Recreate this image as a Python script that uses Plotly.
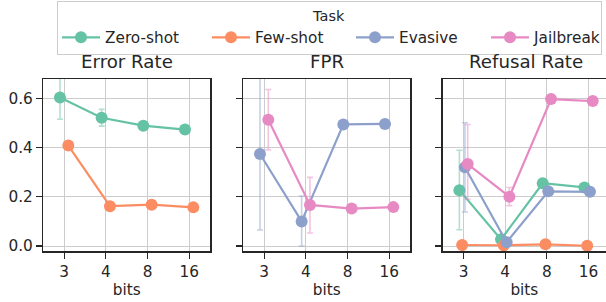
import numpy as np
import plotly.graph_objects as go

# ---------------- data ----------------
bits = ["3", "4", "8", "16"]
tasks = ["Zero-shot", "Few-shot", "Evasive", "Jailbreak"]
panel_titles = ["Error Rate", "FPR", "Refusal Rate"]

# Error Rate panel
err_zero = [0.603, 0.521, 0.489, 0.473]
err_zero_lo = [0.515, 0.487, None, None]
err_zero_hi = [0.700, 0.555, None, None]
err_few = [0.408, 0.162, 0.168, 0.157]

# FPR panel
fpr_evasive = [0.374, 0.100, 0.494, 0.496]
fpr_evasive_lo = [0.065, 0.000, None, None]
fpr_evasive_hi = [0.700, 0.203, None, None]
fpr_jail = [0.513, 0.167, 0.152, 0.158]
fpr_jail_lo = [0.390, 0.053, None, None]
fpr_jail_hi = [0.636, 0.279, None, None]

# Refusal Rate panel
ref_zero = [0.227, 0.027, 0.255, 0.238]
ref_zero_lo = [0.066, None, None, None]
ref_zero_hi = [0.389, None, None, None]
ref_few = [0.004, 0.003, 0.007, 0.001]
ref_evasive = [0.320, 0.015, 0.222, 0.220]
ref_evasive_lo = [0.138, None, None, None]
ref_evasive_hi = [0.501, None, None, None]
ref_jail = [0.333, 0.200, 0.597, 0.589]
ref_jail_lo = [0.190, 0.164, None, None]
ref_jail_hi = [0.494, 0.238, None, None]

# ---------------- style ----------------
colors = {"Zero-shot": "#66c2a5", "Few-shot": "#fc8d62",
          "Evasive": "#8da0cb", "Jailbreak": "#e78ac3"}
legend_widths = {"Zero-shot": 97, "Few-shot": 91, "Evasive": 82, "Jailbreak": 62}
FONT = "DejaVu Sans"
TXT = "#262626"

W, H = 606, 302
ML, MR, MT, MB = 43, 0, 79, 51
PW = W - ML - MR
PH = H - MT - MB
px_per_cat = 166.7 / 4.0
panel_left_px = [43.3, 243.3, 442.7]
panel_right_px = [210.0, 410.0, 606.0]


def rgba(hexc, a):
    h = hexc.lstrip("#")
    return "rgba(%d,%d,%d,%.2f)" % (int(h[0:2], 16), int(h[2:4], 16), int(h[4:6], 16), a)


def err_arrays(vals, lo, hi):
    plus, minus = [], []
    for v, l, h in zip(vals, lo, hi):
        plus.append(0 if h is None else h - v)
        minus.append(0 if l is None else v - l)
    return plus, minus


panels = [
    [("Zero-shot", err_zero, err_zero_lo, err_zero_hi),
     ("Few-shot", err_few, None, None)],
    [("Evasive", fpr_evasive, fpr_evasive_lo, fpr_evasive_hi),
     ("Jailbreak", fpr_jail, fpr_jail_lo, fpr_jail_hi)],
    [("Zero-shot", ref_zero, ref_zero_lo, ref_zero_hi),
     ("Few-shot", ref_few, None, None),
     ("Evasive", ref_evasive, ref_evasive_lo, ref_evasive_hi),
     ("Jailbreak", ref_jail, ref_jail_lo, ref_jail_hi)],
]

fig = go.Figure()
shown = set()
idx = np.arange(len(bits))
for p, series in enumerate(panels):
    offsets = np.linspace(-0.1, 0.1, len(series))
    for (name, vals, lo, hi), off in zip(series, offsets):
        if lo is None:
            lo = [None] * len(vals)
            hi = [None] * len(vals)
        plus, minus = err_arrays(vals, lo, hi)
        show = name not in shown
        shown.add(name)
        fig.add_trace(go.Scatter(
            x=idx + off, y=vals, mode="lines+markers", name=name,
            legendgroup=name, showlegend=show,
            legendwidth=legend_widths[name],
            line=dict(color=colors[name], width=2.2),
            marker=dict(color=colors[name], size=12),
            error_y=dict(type="data", array=plus, arrayminus=minus, symmetric=False,
                         color=rgba(colors[name], 0.5), thickness=1.6, width=3),
            xaxis="x" if p == 0 else "x%d" % (p + 1),
            yaxis="y" if p == 0 else "y%d" % (p + 1),
            hoverinfo="skip",
        ))

layout = dict(
    width=W, height=H,
    margin=dict(l=ML, r=MR, t=MT, b=MB, autoexpand=False),
    paper_bgcolor="white", plot_bgcolor="white",
    font=dict(family=FONT, size=15.3, color=TXT),
    legend=dict(
        orientation="h", x=(57 - ML) / PW, xanchor="left",
        y=1 + (MT - 1) / PH, yanchor="top",
        title=dict(text="Task", side="top center", font=dict(size=14.5, color=TXT)),
        font=dict(size=15.3, color=TXT),
        bordercolor="#cccccc", borderwidth=1, bgcolor="rgba(255,255,255,0.8)",
        itemwidth=38,
    ),
    annotations=[],
)

for p in range(3):
    xa = "xaxis" if p == 0 else "xaxis%d" % (p + 1)
    ya = "yaxis" if p == 0 else "yaxis%d" % (p + 1)
    d0 = (panel_left_px[p] - ML) / PW
    d1 = (panel_right_px[p] - ML) / PW
    xr1 = -0.5 + (panel_right_px[p] - panel_left_px[p]) / px_per_cat
    layout[xa] = dict(
        domain=[d0, min(d1, 1.0)], range=[-0.5, xr1],
        tickmode="array", tickvals=list(idx), ticktext=bits,
        showgrid=True, gridcolor="#cccccc", gridwidth=1, zeroline=False,
        showline=True, linecolor=TXT, linewidth=1.5, mirror=True,
        ticks="outside", ticklen=6, tickwidth=1.2, tickcolor=TXT,
        tickfont=dict(size=15.3, color=TXT),
        title=dict(text="bits", font=dict(size=15.3, color=TXT), standoff=4),
        anchor="y" if p == 0 else "y%d" % (p + 1),
    )
    layout[ya] = dict(
        domain=[0, 1], range=[-0.0203, 0.6786],
        tickmode="array", tickvals=[0.0, 0.2, 0.4, 0.6],
        ticktext=["0.0", "0.2", "0.4", "0.6"],
        showticklabels=(p == 0),
        showgrid=True, gridcolor="#cccccc", gridwidth=1, zeroline=False,
        showline=True, linecolor=TXT, linewidth=1.5, mirror=(p < 2),
        ticks="outside", ticklen=6, tickwidth=1.2, tickcolor=TXT,
        tickfont=dict(size=15.3, color=TXT),
        anchor="x" if p == 0 else "x%d" % (p + 1),
    )
    if p > 0:
        layout[ya]["matches"] = "y"
    cx = ((panel_left_px[p] + (panel_left_px[p] + 166.7)) / 2 - ML) / PW
    layout["annotations"].append(dict(
        text=panel_titles[p], x=cx, y=1, xref="paper", yref="paper",
        xanchor="center", yanchor="bottom", yshift=5, showarrow=False,
        font=dict(size=18.2, color=TXT, family=FONT),
    ))

fig.update_layout(**layout)
fig.write_html("out.html",
               config={"displayModeBar": False, "staticPlot": True},
               post_script="document.body.style.margin='0px';document.body.style.padding='0px';")
